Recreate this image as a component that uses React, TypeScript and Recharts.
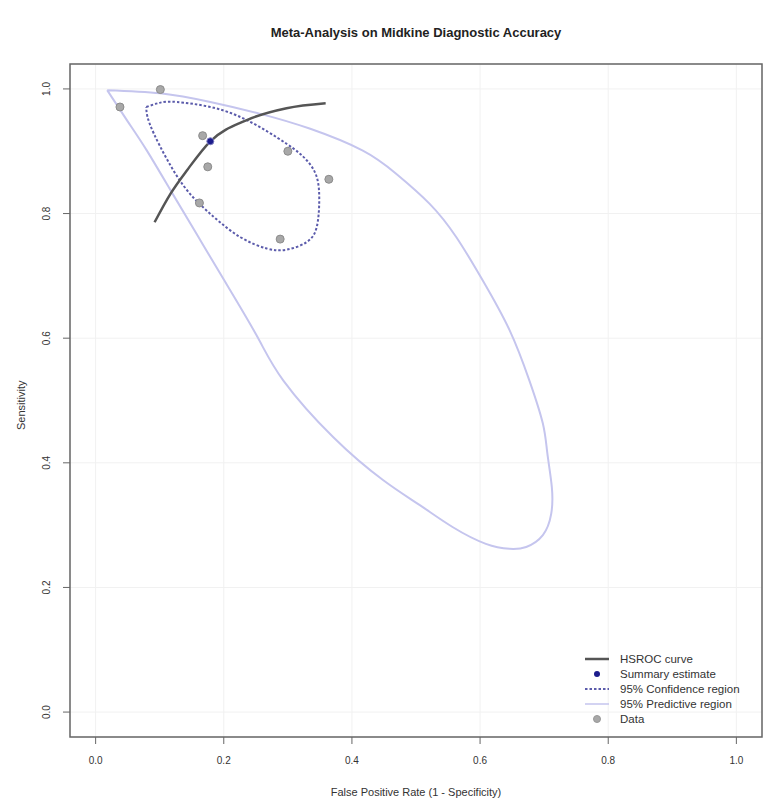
import React from 'react';
import { ScatterChart, Scatter, XAxis, YAxis, CartesianGrid, ReferenceArea } from 'recharts';

// study-level points (FPR, sensitivity)
const studyFpr = [0.038, 0.101, 0.167, 0.175, 0.162, 0.300, 0.364, 0.288];
const studySens = [0.971, 0.999, 0.925, 0.875, 0.817, 0.900, 0.855, 0.759];

const summaryPoint = [{ x: 0.179, y: 0.916 }];

const hsrocFpr = [0.092, 0.117, 0.143, 0.179, 0.236, 0.298, 0.359];
const hsrocSens = [0.786, 0.832, 0.870, 0.916, 0.950, 0.969, 0.977];

const confFpr = [0.079, 0.101, 0.127, 0.179, 0.236, 0.298, 0.329, 0.345, 0.349, 0.345, 0.329, 0.298, 0.267, 0.226, 0.184, 0.143, 0.112, 0.091, 0.081, 0.079];
const confSens = [0.971, 0.978, 0.979, 0.971, 0.950, 0.912, 0.886, 0.859, 0.821, 0.778, 0.754, 0.742, 0.744, 0.762, 0.795, 0.837, 0.886, 0.928, 0.955, 0.971];

const predFpr = [0.018, 0.101, 0.179, 0.257, 0.335, 0.417, 0.469, 0.521, 0.563, 0.604, 0.646, 0.677, 0.698, 0.705, 0.712, 0.711, 0.698, 0.672, 0.646, 0.609, 0.557, 0.506, 0.449, 0.371, 0.293, 0.252, 0.200, 0.160, 0.120, 0.080, 0.050, 0.018];
const predSens = [0.998, 0.993, 0.979, 0.960, 0.936, 0.901, 0.864, 0.816, 0.762, 0.693, 0.613, 0.532, 0.463, 0.415, 0.361, 0.318, 0.284, 0.265, 0.262, 0.270, 0.297, 0.332, 0.372, 0.441, 0.532, 0.603, 0.694, 0.763, 0.832, 0.901, 0.948, 0.998];

const ticks = [0, 0.2, 0.4, 0.6, 0.8, 1.0];

const zip = (xs: number[], ys: number[]) => xs.map((x, i) => ({ x, y: ys[i] }));

const studies = zip(studyFpr, studySens);
const hsroc = zip(hsrocFpr, hsrocSens);
const conf = zip(confFpr, confSens);
const pred = zip(predFpr, predSens);

const font = '"Liberation Sans", Arial, sans-serif';
const noDot = () => <g />;

const DataDot = (props: any) => (
  <circle cx={props.cx} cy={props.cy} r={4} fill="#a8a8a8" stroke="#8c8c8c" strokeWidth={1} />
);
const SummaryDot = (props: any) => (
  <circle cx={props.cx} cy={props.cy} r={3.5} fill="#1c1c8c" stroke="#8080c0" strokeWidth={1} />
);

const YTick = (props: any) => {
  const { y, payload } = props;
  return (
    <text x={39} y={y} transform={`rotate(-90, 39, ${y})`} textAnchor="middle" dominantBaseline="central"
      fontSize={10} fill="#333" fontFamily={font}>
      {payload.value.toFixed(1)}
    </text>
  );
};

const XTick = (props: any) => {
  const { x, payload } = props;
  return (
    <text x={x} y={752} textAnchor="middle" dominantBaseline="central" fontSize={10} fill="#333" fontFamily={font}>
      {payload.value.toFixed(1)}
    </text>
  );
};

const legendItems = [
  { label: 'HSROC curve', kind: 'line' },
  { label: 'Summary estimate', kind: 'summary' },
  { label: '95% Confidence region', kind: 'dash' },
  { label: '95% Predictive region', kind: 'pred' },
  { label: 'Data', kind: 'data' },
];

function LegendIcon({ kind }: { kind: string }) {
  return (
    <svg width={26} height={14} style={{ display: 'block' }}>
      {kind === 'line' && <line x1={1} x2={25} y1={7} y2={7} stroke="#555" strokeWidth={2.5} />}
      {kind === 'summary' && <circle cx={13} cy={7} r={3} fill="#1c1c8c" />}
      {kind === 'dash' && <line x1={1} x2={25} y1={7} y2={7} stroke="#5b5bab" strokeWidth={2} strokeDasharray="2.5 2" />}
      {kind === 'pred' && <line x1={1} x2={25} y1={7} y2={7} stroke="#c5c5ee" strokeWidth={1.5} />}
      {kind === 'data' && <circle cx={13} cy={7} r={3.5} fill="#a8a8a8" stroke="#999" />}
    </svg>
  );
}

export default function App() {
  return (
    <div style={{ position: 'relative', width: 771, height: 802, fontFamily: font, background: '#fff' }}>
      <div style={{ position: 'absolute', left: 0, width: 816, top: 17, textAlign: 'center', fontSize: 13, fontWeight: 'bold', color: '#222' }}>
        Meta-Analysis on Midkine Diagnostic Accuracy
      </div>
      <ScatterChart width={771} height={802} margin={{ top: 56, right: 17, bottom: 0, left: 0 }}>
        <CartesianGrid stroke="#f1f1f1" />
        <XAxis type="number" dataKey="x" domain={[-0.04, 1.04]} ticks={ticks} height={73}
          tickSize={7} tick={<XTick />} tickLine={{ stroke: '#666' }} axisLine={false} allowDataOverflow />
        <YAxis type="number" dataKey="y" domain={[-0.04, 1.04]} ticks={ticks} width={62}
          tickSize={7} tick={<YTick />} tickLine={{ stroke: '#666' }} axisLine={false} allowDataOverflow />
        <ReferenceArea x1={-0.04} x2={1.04} y1={-0.04} y2={1.04} fill="none" fillOpacity={0} stroke="#666" strokeWidth={1.5} ifOverflow="visible" />
        <Scatter data={pred} line={{ stroke: '#c5c5ee', strokeWidth: 2 }} lineJointType="natural" shape={noDot} isAnimationActive={false} />
        <Scatter data={conf} line={{ stroke: '#5b5bab', strokeWidth: 2, strokeDasharray: '2.5 2' }} lineJointType="natural" shape={noDot} isAnimationActive={false} />
        <Scatter data={hsroc} line={{ stroke: '#555', strokeWidth: 2.5 }} lineJointType="monotoneX" shape={noDot} isAnimationActive={false} />
        <Scatter data={studies} shape={DataDot} isAnimationActive={false} />
        <Scatter data={summaryPoint} shape={SummaryDot} isAnimationActive={false} />
      </ScatterChart>
      <div style={{ position: 'absolute', left: 0, width: 816, top: 778, textAlign: 'center', fontSize: 11, color: '#333' }}>
        False Positive Rate (1 - Specificity)
      </div>
      <div style={{ position: 'absolute', left: 7, top: 392, fontSize: 11, color: '#333', transform: 'rotate(-90deg)', transformOrigin: '0 0', whiteSpace: 'nowrap' }}>
        <span style={{ position: 'absolute', left: -30, top: 0 }}>Sensitivity</span>
      </div>
      <div style={{ position: 'absolute', left: 576, top: 643 }}>
        {legendItems.map((it) => (
          <div key={it.label} style={{ display: 'flex', alignItems: 'center', height: 15, fontSize: 11.5, color: '#333' }}>
            <LegendIcon kind={it.kind} />
            <span style={{ marginLeft: 10 }}>{it.label}</span>
          </div>
        ))}
      </div>
    </div>
  );
}
